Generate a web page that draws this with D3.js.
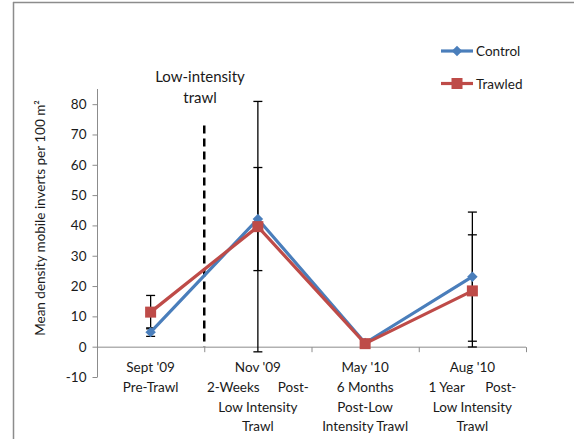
<!DOCTYPE html>
<meta charset="utf-8">
<script src="https://cdn.jsdelivr.net/npm/d3@7"></script>
<style>
body { margin: 0; background: #fff; }
text { font-family: Lato, "Open Sans", sans-serif; fill: #1a1a1a; }
</style>
<body>
<div id="chart"></div>
<script>
// data
var categories = ["Sept '09", "Nov '09", "May '10", "Aug '10"];
var catLabels = [
  ["Sept '09", "Pre-Trawl"],
  ["Nov '09", "2-Weeks|Post-", "Low Intensity", "Trawl"],
  ["May '10", "6 Months", "Post-Low", "Intensity Trawl"],
  ["Aug '10", "1 Year|Post-", "Low Intensity", "Trawl"]
];
var justifyHalf = [0, 51, 0, 44];
var controlVals = [4.8, 42.1, 1.2, 23.1];
var controlErr = [1.4, 17.0, 0.5, 21.3];
var trawledVals = [11.4, 39.6, 1.0, 18.4];
var trawledErr = [5.5, 41.3, 0.5, 18.5];
var yTicks = [-10, 0, 10, 20, 30, 40, 50, 60, 70, 80];
var trawlLineTop = 73;

var W = 574, H = 439;
var blue = "#4a7ebb", red = "#be4b48";

var svg = d3.select("#chart").append("svg")
  .attr("width", W).attr("height", H);

// chart border (left and top only visible)
svg.append("line").attr("x1", 13.5).attr("x2", 13.5).attr("y1", 2).attr("y2", H)
  .attr("stroke", "#8c8c8c").attr("stroke-width", 1.5);
svg.append("line").attr("x1", 13).attr("x2", W).attr("y1", 2.5).attr("y2", 2.5)
  .attr("stroke", "#8c8c8c").attr("stroke-width", 1.5);

var x = d3.scaleBand().domain(categories).range([97, 526]);
var y = d3.scaleLinear().domain([-10, 85]).range([377, 89]);
var cx = function(i) { return x(categories[i]) + x.bandwidth() / 2; };

// y axis
var yAxis = d3.axisLeft(y).tickValues(yTicks).tickSize(5).tickPadding(6)
  .tickFormat(function(d) { return String(d); });
var yg = svg.append("g").attr("transform", "translate(97.5,0)").call(yAxis);
yg.select(".domain").attr("stroke", "#8c8c8c").attr("d", "M0," + y(85) + "V" + y(-10));
yg.selectAll(".tick line").attr("stroke", "#8c8c8c");
yg.selectAll(".tick text").attr("font-size", 13.5).attr("fill", "#1a1a1a")
  .style("font-family", "Lato, sans-serif");

// x axis at zero
var xg = svg.append("g").attr("transform", "translate(0," + (y(0) + 0.5) + ")");
xg.append("line").attr("x1", 97).attr("x2", 526).attr("stroke", "#8c8c8c");
var bounds = categories.map(function(c) { return x(c); }).concat([526]);
xg.selectAll(".tk").data(bounds).enter().append("line")
  .attr("x1", function(d) { return d + 0.5; }).attr("x2", function(d) { return d + 0.5; })
  .attr("y1", 0).attr("y2", 5).attr("stroke", "#8c8c8c");

// category labels
catLabels.forEach(function(lines, i) {
  var c = cx(i);
  lines.forEach(function(ln, j) {
    var yy = 372 + j * 19.8;
    if (ln.indexOf("|") >= 0) {
      var parts = ln.split("|");
      svg.append("text").attr("x", c - justifyHalf[i]).attr("y", yy).attr("font-size", 13.5)
        .attr("text-anchor", "start").text(parts[0]);
      svg.append("text").attr("x", c + justifyHalf[i]).attr("y", yy).attr("font-size", 13.5)
        .attr("text-anchor", "end").text(parts[1]);
    } else {
      svg.append("text").attr("x", c).attr("y", yy).attr("font-size", 13.5)
        .attr("text-anchor", "middle").text(ln);
    }
  });
});

// y axis title
svg.append("text")
  .attr("transform", "translate(45," + 218 + ") rotate(-90)")
  .attr("text-anchor", "middle").attr("font-size", 13.5)
  .text("Mean density mobile inverts per 100 m\u00B2");

// trawl marker line
svg.append("line")
  .attr("x1", x(categories[1])).attr("x2", x(categories[1]))
  .attr("y1", y(trawlLineTop)).attr("y2", y(0))
  .attr("stroke", "#000").attr("stroke-width", 2.5).attr("stroke-dasharray", "8,5");
svg.append("text").attr("x", 200).attr("y", 82).attr("text-anchor", "middle")
  .attr("font-size", 15).text("Low-intensity");
svg.append("text").attr("x", 200).attr("y", 103).attr("text-anchor", "middle")
  .attr("font-size", 15).text("trawl");

// error bars
function errBars(vals, errs) {
  var g = svg.append("g").attr("stroke", "#000").attr("stroke-width", 1.3);
  vals.forEach(function(v, i) {
    var c = cx(i), t = y(v + errs[i]), b = y(v - errs[i]);
    g.append("line").attr("x1", c).attr("x2", c).attr("y1", t).attr("y2", b);
    g.append("line").attr("x1", c - 4.5).attr("x2", c + 4.5).attr("y1", t).attr("y2", t);
    g.append("line").attr("x1", c - 4.5).attr("x2", c + 4.5).attr("y1", b).attr("y2", b);
  });
}
errBars(controlVals, controlErr);
errBars(trawledVals, trawledErr);

var line = d3.line().x(function(d, i) { return cx(i); }).y(function(d) { return y(d); });

svg.append("path").datum(controlVals).attr("d", line)
  .attr("fill", "none").attr("stroke", blue).attr("stroke-width", 3.2);
svg.selectAll(".dia").data(controlVals).enter().append("path")
  .attr("d", d3.symbol().type(d3.symbolDiamond2).size(70))
  .attr("transform", function(d, i) { return "translate(" + cx(i) + "," + y(d) + ")"; })
  .attr("fill", blue);

svg.append("path").datum(trawledVals).attr("d", line)
  .attr("fill", "none").attr("stroke", red).attr("stroke-width", 3.2);
svg.selectAll(".sq").data(trawledVals).enter().append("rect")
  .attr("x", function(d, i) { return cx(i) - 5.5; })
  .attr("y", function(d) { return y(d) - 5.5; })
  .attr("width", 11).attr("height", 11).attr("fill", red);

// legend
var legend = [["Control", blue, "dia"], ["Trawled", red, "sq"]];
legend.forEach(function(l, i) {
  var ly = 51 + i * 32.5;
  svg.append("line").attr("x1", 441).attr("x2", 473).attr("y1", ly).attr("y2", ly)
    .attr("stroke", l[1]).attr("stroke-width", 3.2);
  if (l[2] === "dia") {
    svg.append("path").attr("d", d3.symbol().type(d3.symbolDiamond2).size(70))
      .attr("transform", "translate(457," + ly + ")").attr("fill", l[1]);
  } else {
    svg.append("rect").attr("x", 451.5).attr("y", ly - 5.5).attr("width", 11).attr("height", 11)
      .attr("fill", l[1]);
  }
  svg.append("text").attr("x", 476).attr("y", ly + 5).attr("font-size", 13.5).text(l[0]);
});
</script>
</body>
